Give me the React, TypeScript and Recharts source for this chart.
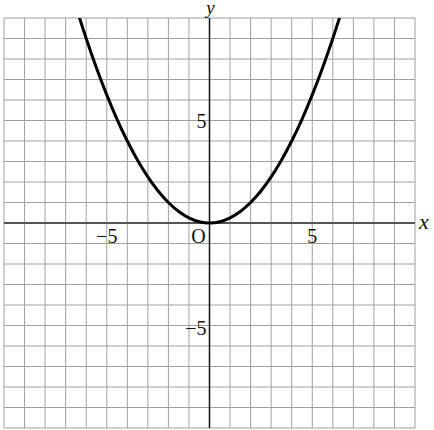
import { LineChart, Line, XAxis, YAxis, CartesianGrid, ReferenceLine, ReferenceDot } from 'recharts'

const curveX = [-6.5, -6, -5.5, -5, -4.5, -4, -3.5, -3, -2.5, -2, -1.5, -1, -0.5, 0, 0.5, 1, 1.5, 2, 2.5, 3, 3.5, 4, 4.5, 5, 5.5, 6, 6.5]
const curveY = [10.56, 9, 7.56, 6.25, 5.06, 4, 3.06, 2.25, 1.56, 1, 0.56, 0.25, 0.06, 0, 0.06, 0.25, 0.56, 1, 1.56, 2.25, 3.06, 4, 5.06, 6.25, 7.56, 9, 10.56]

const gridTicks = [-10, -9, -8, -7, -6, -5, -4, -3, -2, -1, 0, 1, 2, 3, 4, 5, 6, 7, 8, 9, 10]
const xTickLabels = [
  { v: -5, text: '−5' },
  { v: 5, text: '5' },
]
const yTickLabels = [
  { v: 5, text: '5', dy: 7 },
  { v: -5, text: '−5', dy: 9 },
]

const data = curveX.map((x, i) => ({ x, y: curveY[i] }))

const font = '"Liberation Serif", "DejaVu Serif", serif'

export default function App() {
  return (
    <div style={{ position: 'absolute', left: 0, top: 0 }}>
      <LineChart width={434} height={430} data={data} margin={{ top: 18, right: 19, bottom: 2, left: 4 }}>
        <XAxis type="number" dataKey="x" domain={[-10, 10]} ticks={gridTicks} interval={0} hide />
        <YAxis type="number" domain={[-10, 10]} ticks={gridTicks} interval={0} allowDataOverflow hide />
        <CartesianGrid stroke="#a0a0a0" strokeWidth={1} />
        <ReferenceLine y={0} stroke="#555" strokeWidth={2} />
        <ReferenceLine x={0} stroke="#111" strokeWidth={1.5} />
        <Line
          type="monotone"
          dataKey="y"
          stroke="#000"
          strokeWidth={3}
          dot={false}
          isAnimationActive={false}
        />
        {xTickLabels.map((t) => (
          <ReferenceDot
            key={'x' + t.v}
            x={t.v}
            y={0}
            shape={(p: any) => (
              <text x={p.cx} y={p.cy + 20} textAnchor="middle" fontFamily={font} fontSize={20} fill="#111">
                {t.text}
              </text>
            )}
          />
        ))}
        {yTickLabels.map((t) => (
          <ReferenceDot
            key={'y' + t.v}
            x={0}
            y={t.v}
            shape={(p: any) => (
              <text x={p.cx - 3} y={p.cy + t.dy} textAnchor="end" fontFamily={font} fontSize={20} fill="#111">
                {t.text}
              </text>
            )}
          />
        ))}
        <ReferenceDot
          x={0}
          y={0}
          shape={(p: any) => (
            <text x={p.cx - 11} y={p.cy + 20} textAnchor="middle" fontFamily={font} fontSize={20} fill="#111">
              O
            </text>
          )}
        />
        <ReferenceDot
          x={10}
          y={0}
          shape={(p: any) => (
            <text x={p.cx + 4} y={p.cy + 6} fontFamily={font} fontStyle="italic" fontSize={22} fill="#111">
              x
            </text>
          )}
        />
        <ReferenceDot
          x={0}
          y={10}
          shape={(p: any) => (
            <text x={p.cx + 1} y={p.cy - 4} textAnchor="middle" fontFamily={font} fontStyle="italic" fontSize={19} fill="#111">
              y
            </text>
          )}
        />
      </LineChart>
    </div>
  )
}
